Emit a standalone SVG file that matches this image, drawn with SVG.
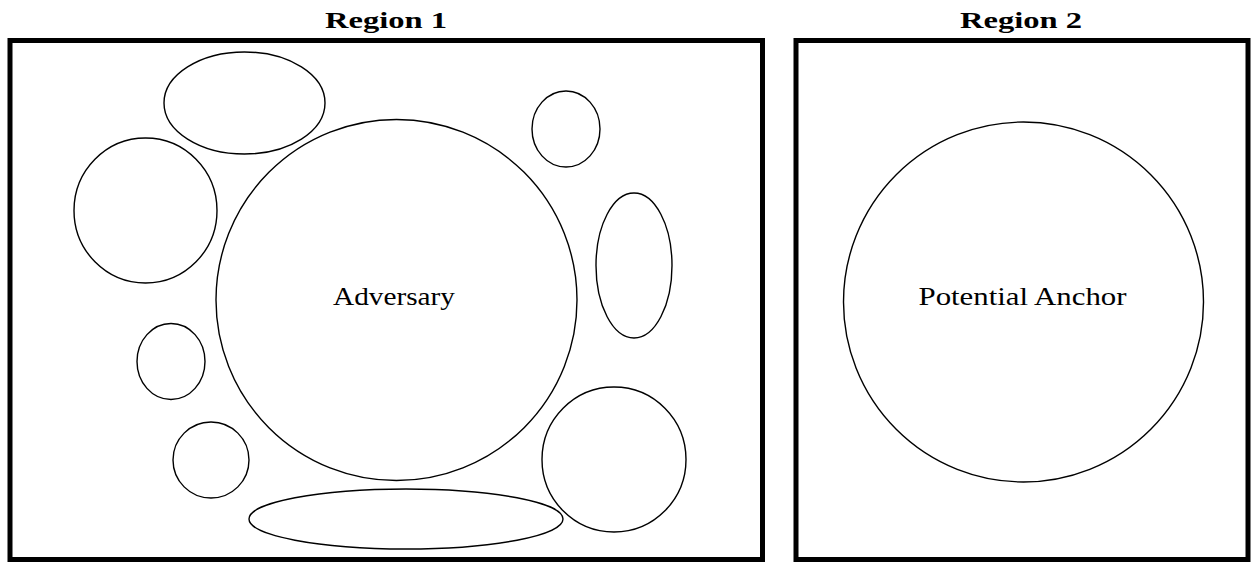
<svg xmlns="http://www.w3.org/2000/svg" width="1251" height="562" viewBox="0 0 1251 562">
<style>
.region{fill:none;stroke:#000;stroke-width:5}
.blob{fill:none;stroke:#000;stroke-width:1.4}
.title{font-family:"Liberation Serif",serif;font-weight:bold;font-size:24px;fill:#000;text-anchor:middle}
.label{font-family:"Liberation Serif",serif;font-size:26px;fill:#000;text-anchor:middle}
</style>
<rect width="1251" height="562" fill="#fff"/>
<g id="region1">
<rect class="region" x="10" y="40.5" width="752.5" height="519"/>
<text class="title" x="386" y="28" textLength="122" lengthAdjust="spacingAndGlyphs">Region 1</text>
</g>
<g id="region2">
<rect class="region" x="796" y="40.5" width="452" height="519"/>
<text class="title" x="1021" y="28" textLength="122" lengthAdjust="spacingAndGlyphs">Region 2</text>
</g>
<g id="adversary">
<circle class="blob" cx="396.5" cy="300" r="180.5"/>
<text class="label" x="394" y="305" textLength="122" lengthAdjust="spacingAndGlyphs">Adversary</text>
</g>
<g id="anchor">
<circle class="blob" cx="1023.5" cy="302" r="180"/>
<text class="label" x="1022.5" y="305" textLength="208" lengthAdjust="spacingAndGlyphs">Potential Anchor</text>
</g>
<g id="e1"><ellipse class="blob" cx="244.5" cy="103" rx="80.5" ry="51"/></g>
<g id="e2"><ellipse class="blob" cx="145.5" cy="210.5" rx="71.5" ry="72.5"/></g>
<g id="e3"><ellipse class="blob" cx="171" cy="361.5" rx="34" ry="38"/></g>
<g id="e4"><ellipse class="blob" cx="211" cy="460" rx="38" ry="38"/></g>
<g id="e5"><ellipse class="blob" cx="406" cy="519" rx="157" ry="30"/></g>
<g id="e6"><ellipse class="blob" cx="566" cy="129" rx="34" ry="38"/></g>
<g id="e7"><ellipse class="blob" cx="634" cy="265.5" rx="38" ry="72.5"/></g>
<g id="e8"><ellipse class="blob" cx="614" cy="459.5" rx="72" ry="72.5"/></g>
<g id="connectors"/>
</svg>
